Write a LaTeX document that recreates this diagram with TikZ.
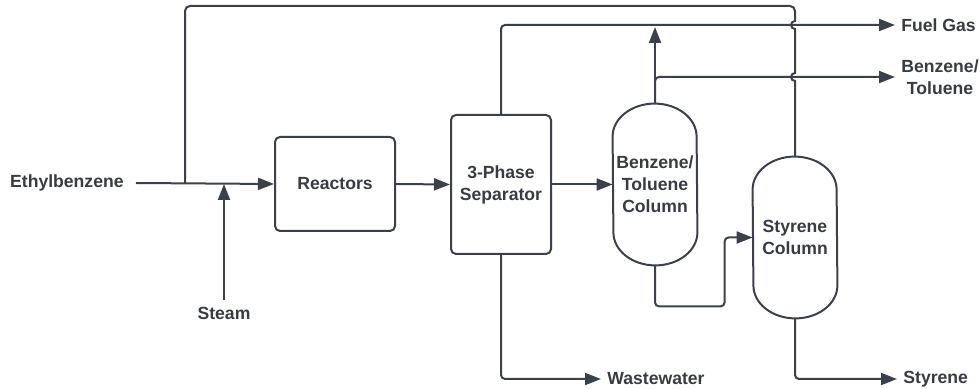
\documentclass[tikz,border=0pt]{standalone}
\usepackage{fontspec}
\setmainfont{Liberation Sans}
\usepackage{tikz}
\usetikzlibrary{arrows.meta,positioning,calc}
\definecolor{PFDline}{HTML}{3C4048}
\definecolor{PFDtext}{HTML}{383B40}
\newcommand{\pfdfont}{\bfseries\fontsize{8.8}{11}\selectfont}
\tikzset{
  pf/unit/.style={draw=PFDline, line width=1pt, rounded corners=2.5pt, align=center, text=PFDtext, font=\pfdfont},
  pf/column/.style={minimum width=42pt, minimum height=80.5pt, inner sep=0pt, align=center, text=PFDtext, font=\pfdfont},
  pf/shell/.style={draw=PFDline, line width=1pt},
  pf/label/.style={inner sep=3pt, align=center, text=PFDtext, font=\pfdfont},
  pf/line/.style={draw=PFDline, line width=1pt},
  pf/arr/.style={pf/line, -{Triangle[length=8pt,width=6pt]}}
}
% vessel outline: straight sides with elliptical heads
\newcommand{\drawshell}[1]{%
  \draw[pf/shell] ([yshift=-16.5pt]#1.north west)
    arc[start angle=180, end angle=0, x radius=21pt, y radius=16.5pt]
    -- ([yshift=16.5pt]#1.south east)
    arc[start angle=0, end angle=-180, x radius=21pt, y radius=16.5pt] -- cycle;}

\begin{document}
\begin{tikzpicture}[x=0.5pt, y=-0.5pt]
  \useasboundingbox (0,0) rectangle (980,389);

  % units
  \node[pf/unit, minimum width=60pt, minimum height=47pt] (reac) at (335,184) {Reactors};
  \node[pf/unit, minimum width=50pt, minimum height=69.5pt] (sep) at (501,184.5) {3-Phase\\Separator};
  \node[pf/column] (btc) at (655,184.5) {Benzene/\\Toluene\\Column};
  \node[pf/column] (sty) at (795,237.5) {Styrene\\Column};
  \drawshell{btc}
  \drawshell{sty}

  % streams in and out
  \node[pf/label, anchor=east] (feed) at (130,183) {Ethylbenzene};
  \node[pf/label] (steam) at (224,313) {Steam};
  \node[pf/label, anchor=west] (fuel) at (895,25) {Fuel Gas};
  \node[pf/label, anchor=west] (bt) at (895,77) {Benzene/\\Toluene};
  \node[pf/label, anchor=west] (water) at (601,379) {Wastewater};
  \node[pf/label, anchor=west] (styr) at (897,379) {Styrene};
  \coordinate (recin) at (185,183);

  \draw[pf/arr] ([xshift=3pt]feed.east) -- (reac.west);
  \draw[pf/arr] (steam.north) -- (steam.north |- reac.west);
  \draw[pf/arr] (reac.east) -- (sep.west);
  \draw[pf/arr] (sep.east) -- (btc.west);
  \draw[pf/arr, rounded corners=2pt] (sep.north) |- (fuel.west);
  \draw[pf/arr, rounded corners=2pt] (sep.south) |- (water.west);
  \draw[pf/arr, shorten >=1pt] (btc.north) -- (btc.north |- fuel.west);
  \draw[pf/arr, rounded corners=2pt] (btc.north) |- (bt.west);
  \draw[pf/arr, rounded corners=2pt] (btc.south) -- ++(0,41) -| ([xshift=-14pt]sty.west) -- (sty.west);
  \draw[pf/arr, rounded corners=2pt] (sty.south) |- (styr.west);

  % recycle with line hops
  \draw[pf/line] (sty.north) -- (795,81) arc[start angle=270, end angle=90, radius=2pt]
    -- (795,29) arc[start angle=270, end angle=90, radius=2pt]
    [rounded corners=2.5pt] -- (795,6) -- (185,6) -- (recin);
\end{tikzpicture}
\end{document}
